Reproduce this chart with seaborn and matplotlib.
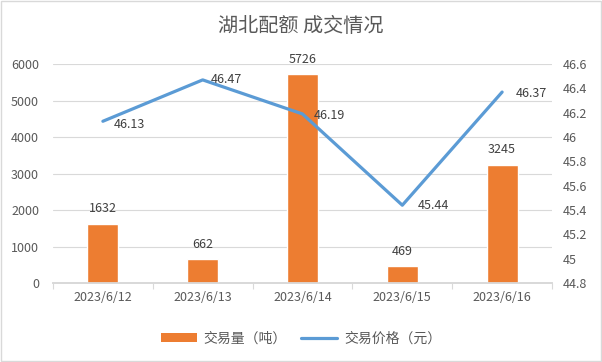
import seaborn as sns
import pandas as pd
from matplotlib import pyplot as plt
from matplotlib.patches import Rectangle, Patch
from matplotlib.lines import Line2D

dates = ["2023/6/12", "2023/6/13", "2023/6/14", "2023/6/15", "2023/6/16"]
volume = [1632, 662, 5726, 469, 3245]
price = [46.13, 46.47, 46.19, 45.44, 46.37]
price_offsets = [(8, -2), (6, 0), (8, -1), (11, 0), (10, -1)]

df = pd.DataFrame({"Date": dates, "Volume": volume, "Price": price})

sns.set_theme(style="white")
plt.rcParams["font.family"] = ["Noto Sans CJK SC", "DejaVu Sans"]

bar_color = "#ED7D31"
line_color = "#5B9BD5"
grey = "#595959"

fig = plt.figure(figsize=(6.02, 3.62), dpi=100)
ax = fig.add_axes([0.088, 0.218, 0.829, 0.605])

sns.barplot(x="Date", y="Volume", data=df, color=bar_color, width=0.31,
            saturation=1, ax=ax, zorder=3)
ax.set_ylim(0, 6000)
ax.set_yticks(range(0, 6001, 1000))
ax.set_xlim(-0.5, 4.5)
ax.yaxis.grid(True, color="#D9D9D9", linewidth=0.8, zorder=0)
ax.set_xlabel("")
ax.set_ylabel("")
for i, v in enumerate(volume):
    ax.annotate(str(v), (i, v), xytext=(0, 6), textcoords="offset points",
                ha="center", va="bottom", fontsize=9, color="#404040")

ax2 = ax.twinx()
sns.lineplot(x="Date", y="Price", data=df, color=line_color, linewidth=2.3,
             ax=ax2, sort=False)
ax2.set_ylim(44.8, 46.6)
ax2.set_yticks([44.8 + 0.2 * k for k in range(10)])
ax2.set_yticklabels(["44.8", "45", "45.2", "45.4", "45.6", "45.8", "46",
                     "46.2", "46.4", "46.6"])
ax2.set_ylabel("")
for i, p in enumerate(price):
    ax2.annotate(f"{p:.2f}", (i, p), xytext=price_offsets[i],
                 textcoords="offset points", ha="left", va="center",
                 fontsize=9, color="#404040")

for a in (ax, ax2):
    for s in ("top", "left", "right"):
        a.spines[s].set_visible(False)
    a.spines["bottom"].set_color("#D9D9D9")
    a.tick_params(axis="both", length=0, labelsize=9, labelcolor=grey, pad=6)

# small tick marks between categories
ax.set_xticks([k - 0.5 for k in range(6)], minor=True)
ax.tick_params(axis="x", which="minor", length=4, width=0.8, color="#D9D9D9",
               bottom=True)
ax.tick_params(axis="y", pad=10)
ax2.tick_params(axis="y", pad=8)

fig.suptitle("湖北配额 成交情况", y=0.955, fontsize=14.5, color=grey,
             fontweight="light")

handles = [Patch(facecolor=bar_color, edgecolor="none"),
           Line2D([0], [0], color=line_color, linewidth=2.3)]
fig.legend(handles, ["交易量（吨）", "交易价格（元）"], loc="center",
           bbox_to_anchor=(0.5, 0.065), ncol=2, frameon=False, fontsize=10,
           labelcolor=grey, handlelength=2.6, columnspacing=1.0,
           handletextpad=0.5)

fig.patches.append(Rectangle((0.001, 0.002), 0.997, 0.995, transform=fig.transFigure,
                             fill=False, edgecolor="#D9D9D9", linewidth=1))

plt.savefig("out.png", dpi=100)
